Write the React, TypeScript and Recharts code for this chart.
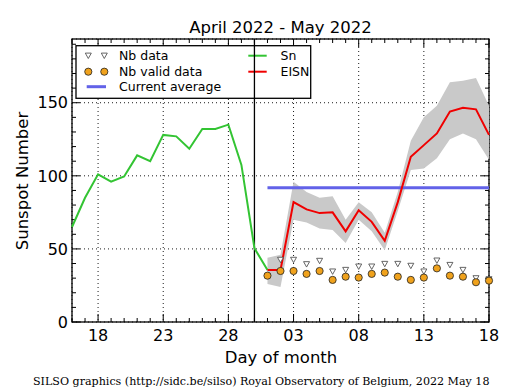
import React from 'react'
import { ComposedChart, Line, Area, Scatter, XAxis, YAxis, CartesianGrid, ReferenceLine, Customized } from 'recharts'

// day of month, 16 April .. 18 May 2022 (x = position in this list)
const days = [16, 17, 18, 19, 20, 21, 22, 23, 24, 25, 26, 27, 28, 29, 30, 1, 2, 3, 4, 5, 6, 7, 8, 9, 10, 11, 12, 13, 14, 15, 16, 17, 18]
const xTicks = [2, 7, 12, 17, 22, 27, 32]
const xTickLabels = ['18', '23', '28', '03', '08', '13', '18']
const yTicks = [0, 50, 100, 150]
const monthSplit = 14

// Sn, 16 Apr .. 1 May
const sn = [65, 85, 101, 96, 99.5, 114, 110, 128, 127, 118.5, 132, 132, 135, 107.5, 50.5, 35.5]

// EISN and friends, 1 May .. 18 May
const eisnStart = 15
const eisn = [35.5, 35.5, 82, 77, 74.5, 75, 62, 76.5, 68.5, 55.5, 82, 113, 121, 129, 144, 146.5, 145.5, 128]
const eisnHigh = [44, 46, 96, 89, 85, 86, 70, 82, 75, 61, 89, 124, 140, 148, 164, 165, 167, 148]
const eisnLow = [26, 24, 70, 68, 64, 63, 54, 70, 62, 49, 76, 104, 105, 112, 125, 129, 125, 111]
const nbData = [null, 42.5, 42.5, 39.5, 41.8, 34.5, 35.6, 37.9, 37.9, 39.7, 39.7, 38.4, 34.5, 42, 39, 35.6, 29.9, 29.2]
const nbValid = [31.7, 34.9, 34.9, 32.9, 34.9, 28.8, 31, 30.4, 32.9, 33.8, 31, 28.8, 30.4, 36.7, 31.7, 31, 27.2, 28.3]
const currentAverage = 91.8

const rows = days.map((d, i) => {
  const j = i - eisnStart
  const may = j >= 0
  return {
    x: i,
    day: d,
    sn: i < sn.length ? sn[i] : null,
    eisn: may ? eisn[j] : null,
    band: may ? [eisnLow[j], eisnHigh[j]] : null,
    avg: may ? currentAverage : null,
  }
})
const nbRows = nbData.map((v, j) => ({ x: j + eisnStart, y: v })).filter(r => r.y != null)
const nbValidRows = nbValid.map((v, j) => ({ x: j + eisnStart, y: v }))

const W = 515
const H = 390
const Y_MAX = 193.6
const X_MAX = 32
const P = { left: 72, top: 39, right: 489, bottom: 322 }
const FONT = 'DejaVu Sans, Verdana, sans-serif'

const GREEN = '#33c433'
const RED = '#f00000'
const BLUE = '#6262e8'
const BAND = '#c9c9c9'
const ORANGE = '#f0a21c'

const TriangleDown = (props: any) => {
  const { cx, cy } = props
  if (cx == null || cy == null) return null
  return <polygon points={`${cx - 3},${cy - 2.6} ${cx + 3},${cy - 2.6} ${cx},${cy + 2.8}`} fill="#fff" stroke="#555" strokeWidth={0.9} />
}

const Dot = (props: any) => {
  const { cx, cy } = props
  if (cx == null || cy == null) return null
  return <circle cx={cx} cy={cy} r={3.6} fill={ORANGE} stroke="#222" strokeWidth={0.8} />
}

// frame, inward ticks, legend box and texts
const Decor = () => {
  const xp = (v: number) => P.left + (v / X_MAX) * (P.right - P.left)
  const yp = (v: number) => P.bottom - (v / Y_MAX) * (P.bottom - P.top)
  const ticks: React.ReactNode[] = []
  days.forEach((_, i) => {
    const len = xTicks.includes(i) ? 8 : 4
    const x = xp(i)
    ticks.push(<line key={'xb' + i} x1={x} x2={x} y1={P.bottom} y2={P.bottom - len} stroke="#000" />)
    ticks.push(<line key={'xt' + i} x1={x} x2={x} y1={P.top} y2={P.top + len} stroke="#000" />)
  })
  for (let v = 0; v <= 190; v += 10) {
    const len = v % 50 === 0 ? 8 : 4
    const y = yp(v)
    ticks.push(<line key={'yl' + v} x1={P.left} x2={P.left + len} y1={y} y2={y} stroke="#000" />)
    ticks.push(<line key={'yr' + v} x1={P.right} x2={P.right - len} y1={y} y2={y} stroke="#000" />)
  }
  const lx = 76
  const ly = 45.7
  const rowY = [55.7, 71.7, 86.7]
  return (
    <g>
      {ticks}
      <rect x={P.left} y={P.top} width={P.right - P.left} height={P.bottom - P.top} fill="none" stroke="#000" strokeWidth={1.3} />
      <rect x={lx} y={ly} width={234.7} height={52.6} fill="#fff" stroke="#000" strokeWidth={1.3} />
      <g fontFamily={FONT} fontSize={12.5} fill="#000">
        <TriangleDown cx={88.3} cy={rowY[0]} />
        <TriangleDown cx={104.3} cy={rowY[0]} />
        <text x={119} y={rowY[0] + 4.5}>Nb data</text>
        <Dot cx={88.3} cy={rowY[1]} />
        <Dot cx={104.3} cy={rowY[1]} />
        <text x={119} y={rowY[1] + 4.5}>Nb valid data</text>
        <line x1={86.7} x2={106} y1={rowY[2]} y2={rowY[2]} stroke={BLUE} strokeWidth={3} />
        <text x={119} y={rowY[2] + 4.5}>Current average</text>
        <line x1={248.3} x2={266.7} y1={rowY[0]} y2={rowY[0]} stroke={GREEN} strokeWidth={2} />
        <text x={280.5} y={rowY[0] + 4.5}>Sn</text>
        <line x1={248.3} x2={266.7} y1={rowY[1]} y2={rowY[1]} stroke={RED} strokeWidth={2} />
        <text x={280.5} y={rowY[1] + 4.5}>EISN</text>
      </g>
      <text x={(P.left + P.right) / 2} y={33} textAnchor="middle" fontFamily={FONT} fontSize={16.5} fill="#000">April 2022 - May 2022</text>
      <text x={281} y={363} textAnchor="middle" fontFamily={FONT} fontSize={16.5} fill="#000">Day of month</text>
      <text x={28} y={181} textAnchor="middle" transform="rotate(-90 28 181)" fontFamily={FONT} fontSize={16.5} fill="#000">Sunspot Number</text>
      <text x={33} y={384.5} fontFamily="DejaVu Serif, serif" fontSize={11.1} fill="#000">SILSO graphics (http://sidc.be/silso) Royal Observatory of Belgium, 2022 May 18</text>
    </g>
  )
}

export default function App() {
  return (
    <div style={{ position: 'absolute', left: 0, top: 0, width: W, height: H, background: '#fff' }}>
      <ComposedChart width={W} height={H} data={rows} margin={{ top: 39, right: 26, bottom: 38, left: 12 }}>
        <CartesianGrid stroke="#000" strokeDasharray="1 3" strokeWidth={0.9} />
        <XAxis
          dataKey="x"
          type="number"
          domain={[0, X_MAX]}
          ticks={xTicks}
          tickFormatter={(v: number) => xTickLabels[xTicks.indexOf(v)] ?? ''}
          axisLine={false}
          tickLine={false}
          tickSize={6}
          tickMargin={2}
          height={30}
          interval={0}
          tick={{ fontSize: 16, fill: '#000', fontFamily: FONT }}
        />
        <YAxis
          type="number"
          domain={[0, Y_MAX]}
          ticks={yTicks}
          axisLine={false}
          tickLine={false}
          tickSize={4}
          tickMargin={0}
          width={60}
          interval={0}
          tick={{ fontSize: 16, fill: '#000', fontFamily: FONT }}
        />
        <ReferenceLine x={monthSplit} stroke="#000" strokeWidth={1.3} />
        <Area type="linear" dataKey="band" stroke="none" fill={BAND} fillOpacity={1} isAnimationActive={false} />
        <Scatter data={nbRows} dataKey="y" shape={TriangleDown} isAnimationActive={false} />
        <Scatter data={nbValidRows} dataKey="y" shape={Dot} isAnimationActive={false} />
        <Line type="linear" dataKey="avg" stroke={BLUE} strokeWidth={3} dot={false} isAnimationActive={false} />
        <Line type="linear" dataKey="sn" stroke={GREEN} strokeWidth={2} dot={false} isAnimationActive={false} />
        <Line type="linear" dataKey="eisn" stroke={RED} strokeWidth={2} dot={false} isAnimationActive={false} />
        <Customized component={Decor} />
      </ComposedChart>
    </div>
  )
}
